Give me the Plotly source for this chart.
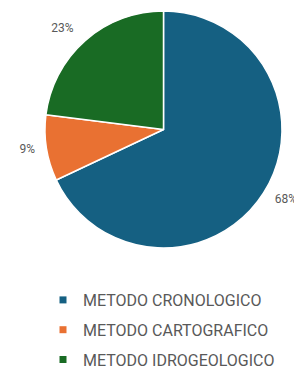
import plotly.graph_objects as go

categories = ["METODO CRONOLOGICO", "METODO CARTOGRAFICO", "METODO IDROGEOLOGICO"]
values = [68, 9, 23]
colors = ["#156082", "#E97132", "#196B24"]

W, H = 302, 370
FONT = "Roboto"
GREY = "#595959"
OFF = 8  # page body margin offset

fig = go.Figure()

cx, cy, r = 163.5 - OFF, 129.5 - OFF, 118.5
fig.add_trace(go.Pie(
    labels=categories,
    values=values,
    marker=dict(colors=colors, line=dict(color="white", width=1.5)),
    sort=False,
    direction="clockwise",
    rotation=0,
    texttemplate="&nbsp;<br>%{percent:.0%}<br>&nbsp;",
    textposition="outside",
    textfont=dict(family=FONT, size=12, color=GREY),
    showlegend=False,
    hoverinfo="label+percent",
    domain=dict(x=[(cx - r) / W, (cx + r) / W], y=[1 - (cy + r) / H, 1 - (cy - r) / H]),
))

# legend entries (small square markers)
for i, (name, col) in enumerate(zip(categories, colors)):
    fig.add_trace(go.Scatter(
        x=[None], y=[None], mode="markers", name=name,
        marker=dict(symbol="square", size=7, color=col),
        legendgroup=f"g{i}", showlegend=True, hoverinfo="skip",
    ))

fig.update_layout(
    width=W, height=H,
    margin=dict(l=0, r=0, t=0, b=0, pad=0, autoexpand=False),
    paper_bgcolor="white",
    plot_bgcolor="rgba(0,0,0,0)",
    xaxis=dict(visible=False, domain=[0, 0.01]),
    yaxis=dict(visible=False, domain=[0, 0.01]),
    font=dict(family=FONT, color=GREY),
    legend=dict(
        x=35 / W, xanchor="left",
        y=1 - 275 / H, yanchor="top",
        font=dict(family=FONT, size=16, color=GREY),
        tracegroupgap=6,
        itemwidth=30,
        bgcolor="rgba(0,0,0,0)",
    ),
)

fig.write_html("out.html")
